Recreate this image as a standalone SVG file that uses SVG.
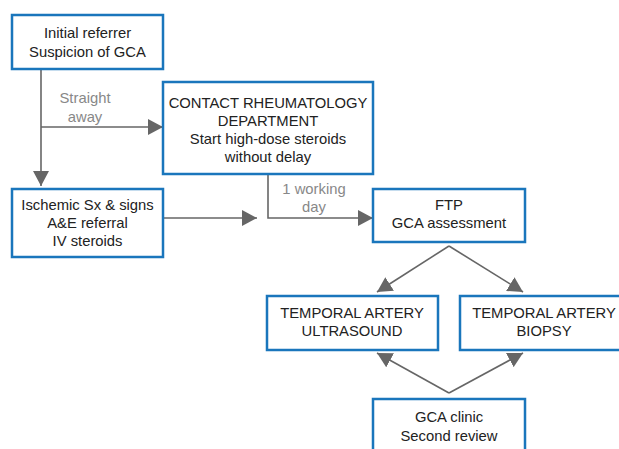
<svg xmlns="http://www.w3.org/2000/svg" width="619" height="449" viewBox="0 0 619 449">
<style>
.box{fill:#fff;stroke:#1a76bc;stroke-width:2.5}
.t{font-family:"Liberation Sans",Arial,sans-serif;font-size:14.8px;fill:#222;text-anchor:middle}
.lbl{font-family:"Liberation Sans",Arial,sans-serif;font-size:14.8px;fill:#888;text-anchor:middle}
.c{fill:none;stroke:#666;stroke-width:1.6}
</style>
<defs>
<marker id="ah" viewBox="0 0 10 10" refX="10" refY="5" markerWidth="10" markerHeight="10" markerUnits="userSpaceOnUse" orient="auto">
<path d="M0,0 L10,5 L0,10 z" fill="#666"/>
</marker>
<marker id="ah2" viewBox="0 0 15 16" refX="15" refY="8" markerWidth="15" markerHeight="16" markerUnits="userSpaceOnUse" orient="auto">
<path d="M0,0 L15,8 L0,16 z" fill="#666"/>
</marker>
</defs>
<g id="connectors">
<path class="c" d="M41,69 V186" marker-end="url(#ah2)"/>
<path class="c" d="M41,127 H163" marker-end="url(#ah2)"/>
<path class="c" d="M163,218 H257" marker-end="url(#ah2)"/>
<path class="c" d="M268,174 V218 H373" marker-end="url(#ah2)"/>
<path class="c" d="M449,246 L377,292" marker-end="url(#ah2)"/>
<path class="c" d="M449,246 L523,292" marker-end="url(#ah2)"/>
<path class="c" d="M449,393 L377,353" marker-end="url(#ah2)"/>
<path class="c" d="M449,393 L523,353" marker-end="url(#ah2)"/>
<text class="lbl" x="85" y="103">Straight</text>
<text class="lbl" x="85" y="122">away</text>
<text class="lbl" x="314" y="194">1 working</text>
<text class="lbl" x="314" y="212">day</text>
</g>
<g id="initial">
<rect class="box" x="12" y="15" width="151" height="54"/>
<text class="t" x="87.5" y="38">Initial referrer</text>
<text class="t" x="87.5" y="57">Suspicion of GCA</text>
</g>
<g id="contact">
<rect class="box" x="163" y="82" width="210" height="92"/>
<text class="t" x="268" y="108">CONTACT RHEUMATOLOGY</text>
<text class="t" x="268" y="126">DEPARTMENT</text>
<text class="t" x="268" y="144">Start high-dose steroids</text>
<text class="t" x="268" y="162">without delay</text>
</g>
<g id="ischemic">
<rect class="box" x="12" y="189" width="151" height="68"/>
<text class="t" x="87.5" y="210">Ischemic Sx &amp; signs</text>
<text class="t" x="87.5" y="228">A&amp;E referral</text>
<text class="t" x="87.5" y="246">IV steroids</text>
</g>
<g id="ftp">
<rect class="box" x="373" y="189" width="152" height="53"/>
<text class="t" x="449" y="210">FTP</text>
<text class="t" x="449" y="228">GCA assessment</text>
</g>
<g id="ultrasound">
<rect class="box" x="267" y="296" width="171" height="54"/>
<text class="t" x="352" y="318">TEMPORAL ARTERY</text>
<text class="t" x="352" y="336">ULTRASOUND</text>
</g>
<g id="biopsy">
<rect class="box" x="460" y="296" width="168" height="54"/>
<text class="t" x="544" y="318">TEMPORAL ARTERY</text>
<text class="t" x="544" y="336">BIOPSY</text>
</g>
<g id="clinic">
<rect class="box" x="373" y="399" width="152" height="60"/>
<text class="t" x="449" y="422">GCA clinic</text>
<text class="t" x="449" y="441">Second review</text>
</g>
</svg>
